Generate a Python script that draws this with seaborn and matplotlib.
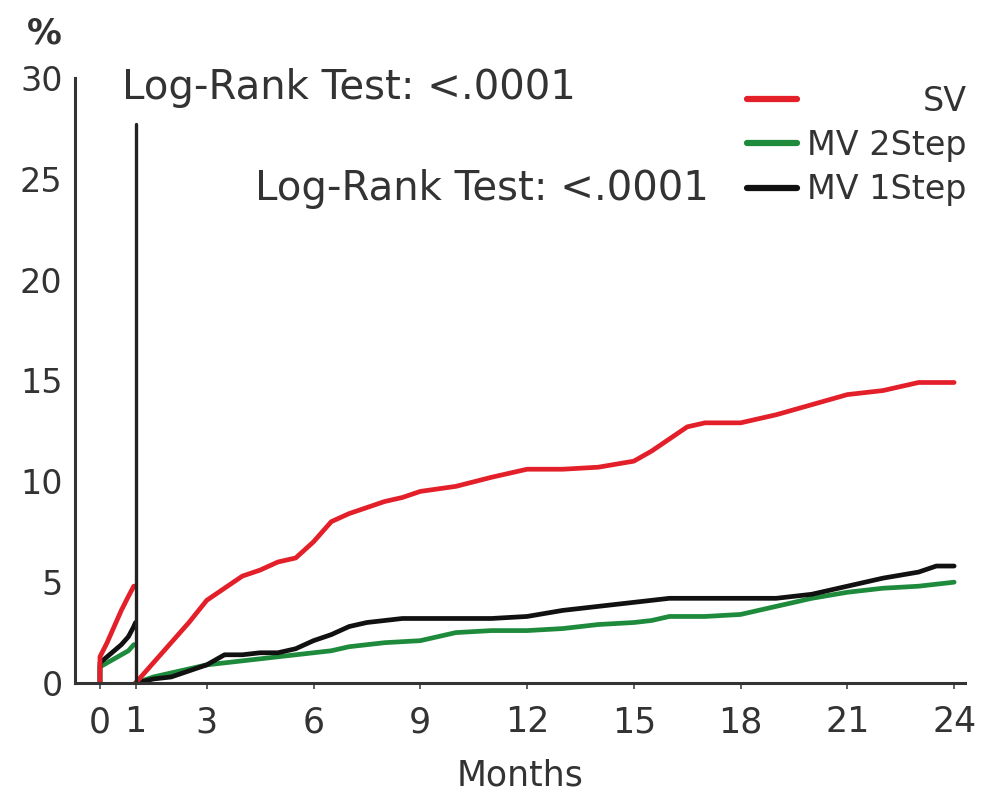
import matplotlib
matplotlib.use("Agg")
import matplotlib.pyplot as plt
import seaborn as sns
import pandas as pd

# ---- data (months, cumulative %) ----
# Period 1: 0 - 1 month
p1_months = [0, 0.0, 0.2, 0.4, 0.6, 0.8, 0.95, 1.0]
sv_p1 = [0, 1.3, 2.0, 2.8, 3.6, 4.3, 4.8, 4.8]
mv2_p1 = [0, 0.8, 1.0, 1.2, 1.4, 1.6, 1.9, 1.9]
mv1_p1 = [0, 1.0, 1.3, 1.6, 1.9, 2.3, 2.8, 3.0]

# Period 2: landmark at 1 month, up to 24 months
p2_months = [1, 1.5, 2, 2.5, 3, 3.5, 4, 4.5, 5, 5.5, 6, 6.5, 7, 7.5, 8, 8.5, 9,
             10, 11, 12, 13, 14, 15, 15.5, 16, 16.5, 17, 18, 19, 20, 21, 22, 23, 23.5, 24]
sv_p2 = [0, 1.0, 2.0, 3.0, 4.1, 4.7, 5.3, 5.6, 6.0, 6.2, 7.0, 8.0, 8.4, 8.7, 9.0, 9.2, 9.5,
         9.75, 10.2, 10.6, 10.6, 10.7, 11.0, 11.5, 12.1, 12.7, 12.9, 12.9, 13.3, 13.8, 14.3, 14.5, 14.9, 14.9, 14.9]
mv2_p2 = [0, 0.3, 0.5, 0.7, 0.9, 1.0, 1.1, 1.2, 1.3, 1.4, 1.5, 1.6, 1.8, 1.9, 2.0, 2.05, 2.1,
          2.5, 2.6, 2.6, 2.7, 2.9, 3.0, 3.1, 3.3, 3.3, 3.3, 3.4, 3.8, 4.2, 4.5, 4.7, 4.8, 4.9, 5.0]
mv1_p2 = [0, 0.2, 0.3, 0.6, 0.9, 1.4, 1.4, 1.5, 1.5, 1.7, 2.1, 2.4, 2.8, 3.0, 3.1, 3.2, 3.2,
          3.2, 3.2, 3.3, 3.6, 3.8, 4.0, 4.1, 4.2, 4.2, 4.2, 4.2, 4.2, 4.4, 4.8, 5.2, 5.5, 5.8, 5.8]

groups = ["SV", "MV 2Step", "MV 1Step"]
colors = {"SV": "#e3202a", "MV 2Step": "#1e8a3c", "MV 1Step": "#111111"}
x_ticks = [0, 1, 3, 6, 9, 12, 15, 18, 21, 24]
y_ticks = [0, 5, 10, 15, 20, 25, 30]
landmark = 1
test_text = "Log-Rank Test: <.0001"

rows = []
for g, v1, v2 in [("SV", sv_p1, sv_p2), ("MV 2Step", mv2_p1, mv2_p2), ("MV 1Step", mv1_p1, mv1_p2)]:
    for m, v in zip(p1_months, v1):
        rows.append({"group": g, "period": 1, "month": m, "pct": v})
    for m, v in zip(p2_months, v2):
        rows.append({"group": g, "period": 2, "month": m, "pct": v})
df = pd.DataFrame(rows)

sns.set_style("white")
plt.rcParams["font.family"] = ["DejaVu Sans"]

fig = plt.figure(figsize=(9.81, 7.92), dpi=100)
ax = fig.add_axes([0.0765, 0.1376, 0.907, 0.764])

for period in [1, 2]:
    for g in ["MV 2Step", "MV 1Step", "SV"]:
        sub = df[(df.group == g) & (df.period == period)]
        sns.lineplot(data=sub, x="month", y="pct", ax=ax, color=colors[g],
                     lw=3.4, estimator=None, sort=False, legend=False)

ax.axvline(landmark, ymin=0, ymax=27.7 / 30, color="#222222", lw=2.4)

ax.set_xlim(-0.7, 24.3)
ax.set_ylim(0, 30)
ax.set_xticks(x_ticks)
ax.set_xticklabels([str(t) for t in x_ticks])
ax.set_yticks(y_ticks)
ax.set_yticklabels([str(t) for t in y_ticks])
ax.tick_params(axis="x", length=4, width=1.2, color="#444444", labelsize=25,
               labelcolor="#333333", pad=12, bottom=True)
ax.tick_params(axis="y", length=0, labelsize=24, labelcolor="#333333", pad=9)

for s in ["top", "right"]:
    ax.spines[s].set_visible(False)
for s in ["left", "bottom"]:
    ax.spines[s].set_color("#333333")
    ax.spines[s].set_linewidth(2.2)

ax.set_xlabel("Months", fontsize=25, color="#333333", labelpad=14)
ax.set_ylabel("%", fontsize=25, color="#333333", rotation=0, fontweight="bold")
ax.yaxis.set_label_coords(-0.035, 1.045)

ax.text(0.62, 29.5, test_text, fontsize=29, color="#333333", ha="left", va="center")
ax.text(4.35, 24.5, test_text, fontsize=29, color="#333333", ha="left", va="center")

handles = [plt.Line2D([], [], color=colors[g], lw=4.5) for g in groups]
leg = ax.legend(handles, groups, loc="upper right", bbox_to_anchor=(0.999, 0.91),
                bbox_transform=fig.transFigure, frameon=False, fontsize=24,
                handlelength=1.5, handletextpad=0.3, labelspacing=0.34,
                borderaxespad=0, labelcolor="#333333")
fig.canvas.draw()
renderer = fig.canvas.get_renderer()
widths = [t.get_window_extent(renderer).width for t in leg.get_texts()]
wmax = max(widths)
for t, w in zip(leg.get_texts(), widths):
    t.set_position((wmax - w, 0))

fig.savefig("out.png", dpi=100)
